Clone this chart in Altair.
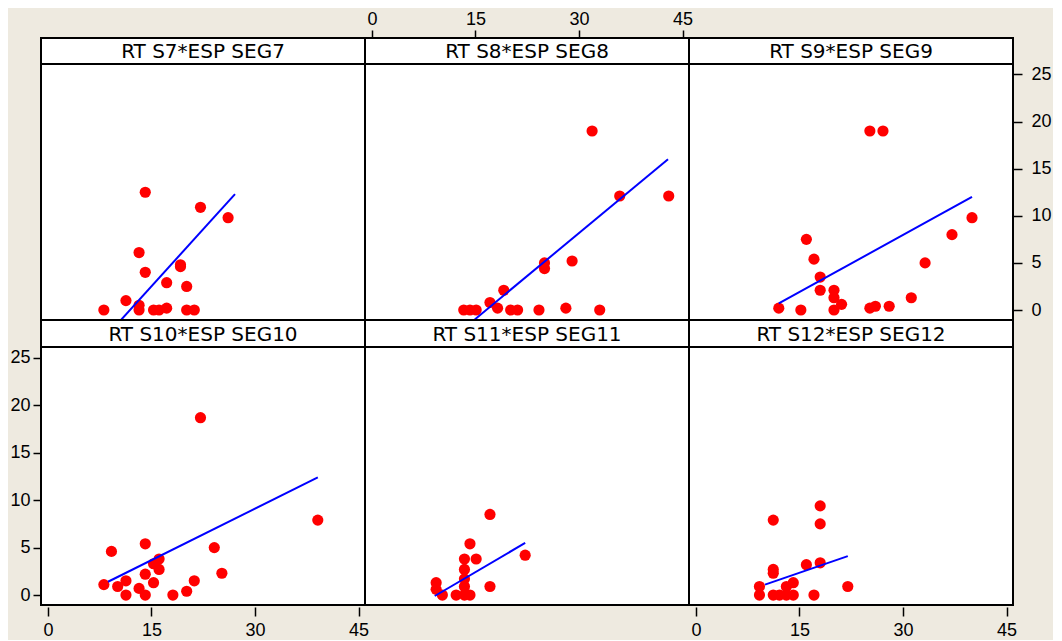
import altair as alt
import pandas as pd

titles = ["RT S7*ESP SEG7", "RT S8*ESP SEG8", "RT S9*ESP SEG9",
          "RT S10*ESP SEG10", "RT S11*ESP SEG11", "RT S12*ESP SEG12"]

s7_x = [8.1, 11.3, 13.2, 13.2, 13.2, 14.1, 14.1, 15.3, 16.1, 17.2, 17.2, 19.2, 19.2, 20.1, 20.1, 21.2, 22.1, 26.1]
s7_y = [0, 1.0, 0.5, 0, 6.1, 12.5, 4.0, 0, 0, 0.2, 2.9, 4.8, 4.6, 2.5, 0, 0, 10.9, 9.8]

s8_x = [13.3, 14.2, 15.1, 17.1, 18.2, 19.1, 20.1, 21.1, 24.2, 25.0, 25.0, 28.1, 29.0, 31.9, 33.0, 35.9, 43.0]
s8_y = [0, 0, 0, 0.8, 0.2, 2.1, 0, 0, 0, 5.0, 4.4, 0.2, 5.2, 19.0, 0, 12.1, 12.1]

s9_x = [12.0, 15.2, 16.0, 17.1, 18.0, 18.0, 20.0, 20.0, 20.0, 21.1, 25.2, 27.1, 25.2, 26.0, 28.0, 31.2, 33.2, 37.1, 40.0]
s9_y = [0.2, 0, 7.5, 5.4, 3.5, 2.1, 2.1, 1.3, 0, 0.6, 19.0, 19.0, 0.2, 0.4, 0.4, 1.3, 5.0, 8.0, 9.8]

s10_x = [8.1, 9.2, 10.1, 11.3, 11.3, 13.2, 14.1, 14.1, 14.1, 15.3, 15.3, 16.1, 16.1, 18.1, 20.1, 21.2, 22.1, 24.1, 25.2, 39.1]
s10_y = [1.1, 4.6, 0.9, 1.5, 0, 0.7, 5.4, 2.2, 0, 3.3, 1.3, 3.8, 2.7, 0, 0.4, 1.5, 18.7, 5.0, 2.3, 7.9]

s11_x = [9.3, 9.3, 10.2, 12.2, 13.4, 13.4, 13.4, 13.4, 13.4, 14.2, 14.2, 15.1, 17.1, 17.1, 22.2]
s11_y = [1.3, 0.6, 0, 0, 3.8, 2.7, 1.7, 0.9, 0, 5.4, 0, 3.8, 8.5, 0.9, 4.2]

s12_x = [9.2, 9.2, 11.2, 11.2, 11.2, 11.2, 12.1, 13.1, 13.1, 14.1, 14.1, 16.0, 17.1, 18.0, 18.0, 18.0, 22.0]
s12_y = [0.9, 0, 7.9, 2.7, 2.3, 0, 0, 0.9, 0, 1.3, 0, 3.2, 0, 9.4, 7.5, 3.4, 0.9]

# regression line end points per panel
fit_x0 = [10.4, 14.9, 12.0, 8.7, 9.1, 10.0]
fit_y0 = [-1.2, -1.0, 0.7, 1.4, -0.1, 1.1]
fit_x1 = [27.1, 42.9, 40.0, 39.1, 22.2, 22.0]
fit_y1 = [12.3, 16.0, 12.0, 12.4, 5.5, 4.1]

x_ticks = [0, 15, 30, 45]
y_ticks = [0, 5, 10, 15, 20, 25]

W = 324
X_DOMAIN = [-1.01, 45.94]
ROWS = {
    "top": dict(h=282, dom=[-1.06, 28.87], hdr=26),
    "bot": dict(h=285, dom=[-1.05, 29.0], hdr=27),
}
LABEL_FONT = "Liberation Sans"
TITLE_FONT = "DejaVu Sans"


def panel(i, xs, ys, row, xaxis=None, yaxis=None):
    r = ROWS[row]
    pts = pd.DataFrame({"x": xs, "y": ys})
    fit = pd.DataFrame({"x": [fit_x0[i], fit_x1[i]], "y": [fit_y0[i], fit_y1[i]]})
    xenc = alt.X("x:Q", scale=alt.Scale(domain=X_DOMAIN, nice=False, zero=False),
                 axis=xaxis, title=None)
    yenc = alt.Y("y:Q", scale=alt.Scale(domain=r["dom"], nice=False, zero=False),
                 axis=yaxis, title=None)
    points = alt.Chart(pts).mark_circle(size=125, color="#FF0000", opacity=1).encode(x=xenc, y=yenc)
    line = alt.Chart(fit).mark_line(color="#0000FF", strokeWidth=2, clip=True).encode(x=xenc, y=yenc)
    hdr = pd.DataFrame({"t": [titles[i]]})
    rule = alt.Chart(hdr).mark_rule(color="black", strokeWidth=2).encode(
        x=alt.value(0), x2=alt.value(W), y=alt.value(r["hdr"]))
    text = alt.Chart(hdr).mark_text(font=TITLE_FONT, fontSize=20, color="black",
                                    baseline="middle", align="center").encode(
        x=alt.value(W / 2), y=alt.value(r["hdr"] / 2 + 1), text="t:N")
    return alt.layer(points, line, rule, text).properties(width=W, height=r["h"])


def xaxis(orient):
    if orient == "top":
        return alt.Axis(orient="top", values=x_ticks, tickSize=8, labelPadding=2,
                        domain=False, grid=False)
    return alt.Axis(orient="bottom", values=x_ticks, tickSize=9, labelPadding=5,
                    domain=False, grid=False, offset=2)


def yaxis(orient):
    return alt.Axis(orient=orient, values=y_ticks, tickSize=9 if orient == "right" else 8,
                    labelPadding=9 if orient == "right" else 3,
                    domain=False, grid=False)


p7 = panel(0, s7_x, s7_y, "top")
p8 = panel(1, s8_x, s8_y, "top", xaxis=xaxis("top"))
p9 = panel(2, s9_x, s9_y, "top", yaxis=yaxis("right"))
p10 = panel(3, s10_x, s10_y, "bot", xaxis=xaxis("bottom"), yaxis=yaxis("left"))
p11 = panel(4, s11_x, s11_y, "bot")
p12 = panel(5, s12_x, s12_y, "bot", xaxis=xaxis("bottom"))

chart = alt.concat(p7, p8, p9, p10, p11, p12, columns=3, spacing=0, bounds="flush").properties(
    padding={"left": 0, "top": 1, "right": 0, "bottom": 0}
).configure(background="#EEEAE0").configure_view(
    stroke="black", strokeWidth=2, fill="white"
).configure_axis(
    labelFont=LABEL_FONT, labelFontSize=18, labelColor="black",
    tickColor="black", tickWidth=1.5
)

chart.save("out.html", embed_options={"renderer": "svg", "actions": False})
